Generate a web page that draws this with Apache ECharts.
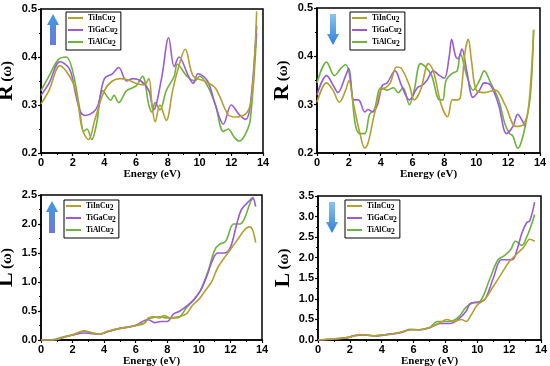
<!DOCTYPE html>
<html><head><meta charset="utf-8">
<script src="https://cdn.jsdelivr.net/npm/echarts@6/dist/echarts.min.js"></script>
<style>html,body{margin:0;padding:0;background:#fff}#c{width:550px;height:366px}</style>
</head><body><div id="c"></div>
<script>
// ---- Data (energy in eV, value) ----
const names = ['TiInCu2', 'TiGaCu2', 'TiAlCu2'];
const xTicks = [0, 2, 4, 6, 8, 10, 12, 14];

// Panel 1: R(ω), spin up
const r1In = [[0,0.302],[0.5,0.33],[1.2,0.382],[1.8,0.36],[2.2,0.33],[2.6,0.25],[3.0,0.228],[3.4,0.27],[4.0,0.33],[4.5,0.35],[5.0,0.355],[5.5,0.352],[6.0,0.345],[6.5,0.342],[6.8,0.355],[7.0,0.3],[7.2,0.265],[7.5,0.3],[7.9,0.268],[8.3,0.33],[8.6,0.37],[9.1,0.416],[9.6,0.36],[10.3,0.35],[11.0,0.335],[11.8,0.28],[12.3,0.275],[13.0,0.285],[13.3,0.32],[13.6,0.495]];
const r1Ga = [[0,0.32],[0.5,0.345],[1.2,0.39],[1.8,0.375],[2.2,0.32],[2.5,0.285],[2.8,0.278],[3.3,0.285],[3.6,0.3],[4.0,0.355],[4.5,0.365],[4.9,0.378],[5.4,0.35],[5.8,0.355],[6.3,0.35],[6.8,0.33],[7.1,0.29],[7.6,0.355],[8.05,0.44],[8.4,0.38],[8.7,0.4],[9.3,0.36],[9.6,0.345],[9.9,0.365],[10.5,0.35],[11.0,0.3],[11.5,0.26],[12.0,0.3],[12.5,0.28],[12.9,0.27],[13.2,0.3],[13.6,0.465]];
const r1Al = [[0,0.33],[0.5,0.36],[1.1,0.395],[1.6,0.4],[2.0,0.37],[2.4,0.3],[2.7,0.245],[2.9,0.25],[3.2,0.228],[3.5,0.26],[3.9,0.33],[4.4,0.31],[4.6,0.32],[4.9,0.305],[5.4,0.33],[6.0,0.34],[6.4,0.36],[6.8,0.3],[7.0,0.285],[7.2,0.305],[7.5,0.29],[7.9,0.33],[8.4,0.36],[8.6,0.385],[9.2,0.36],[9.7,0.35],[10.0,0.36],[10.5,0.34],[11.0,0.3],[11.5,0.245],[11.8,0.25],[12.2,0.232],[12.5,0.225],[12.9,0.24],[13.2,0.27],[13.6,0.45]];

// Panel 2: R(ω), spin down
const r2In = [[0,0.305],[0.6,0.345],[1.0,0.33],[1.4,0.305],[1.8,0.33],[2.0,0.35],[2.3,0.3],[2.7,0.24],[3.0,0.21],[3.2,0.22],[3.6,0.28],[4.0,0.33],[4.3,0.335],[4.6,0.345],[5.0,0.378],[5.3,0.375],[5.8,0.34],[6.1,0.31],[6.5,0.33],[7.0,0.385],[7.3,0.37],[7.8,0.3],[8.2,0.275],[8.5,0.31],[8.8,0.31],[9.0,0.315],[9.3,0.41],[9.5,0.435],[9.7,0.39],[10.0,0.33],[10.5,0.325],[11.2,0.33],[11.8,0.3],[12.5,0.255],[13.0,0.26],[13.3,0.3],[13.6,0.455]];
const r2Ga = [[0,0.32],[0.6,0.36],[1.1,0.335],[1.3,0.325],[1.8,0.36],[2.0,0.375],[2.3,0.31],[2.6,0.31],[3.0,0.285],[3.2,0.29],[3.5,0.285],[3.8,0.3],[4.1,0.34],[4.4,0.345],[4.9,0.37],[5.3,0.34],[5.8,0.31],[6.3,0.335],[6.6,0.34],[6.9,0.35],[7.3,0.37],[7.7,0.36],[8.0,0.355],[8.3,0.4],[8.45,0.435],[8.7,0.4],[8.85,0.395],[9.1,0.415],[9.4,0.37],[9.8,0.315],[10.2,0.33],[10.5,0.345],[10.9,0.34],[11.4,0.3],[11.9,0.24],[12.3,0.255],[12.6,0.28],[13.0,0.26],[13.1,0.255]];
const r2Al = [[0,0.345],[0.6,0.388],[1.1,0.36],[1.5,0.375],[1.8,0.383],[2.1,0.35],[2.4,0.26],[2.7,0.24],[3.0,0.24],[3.3,0.28],[3.6,0.29],[4.0,0.335],[4.4,0.33],[4.8,0.335],[5.1,0.325],[5.4,0.335],[5.8,0.3],[6.1,0.33],[6.5,0.385],[6.9,0.375],[7.2,0.36],[7.7,0.31],[7.9,0.31],[8.1,0.35],[8.5,0.365],[8.8,0.37],[9.0,0.405],[9.4,0.36],[9.8,0.33],[10.2,0.35],[10.5,0.37],[10.9,0.345],[11.4,0.31],[11.8,0.26],[12.1,0.24],[12.3,0.235],[12.6,0.21],[12.8,0.22],[13.1,0.26],[13.4,0.32],[13.6,0.455]];

// Panel 3: L(ω), spin up
const l1In = [[0,0],[0.8,0],[1.5,0.05],[2.2,0.11],[2.7,0.16],[3.3,0.12],[3.7,0.1],[4.2,0.15],[5.0,0.2],[5.7,0.23],[6.3,0.28],[6.6,0.3],[6.8,0.38],[7.2,0.4],[7.5,0.38],[7.8,0.42],[8.2,0.38],[8.7,0.4],[9.2,0.45],[9.6,0.6],[10.0,0.7],[10.4,0.85],[10.8,1.0],[11.2,1.25],[11.7,1.45],[12.1,1.6],[12.5,1.75],[12.9,1.9],[13.2,1.95],[13.4,1.9],[13.6,1.68]];
const l1Ga = [[0,0],[0.8,0],[1.5,0.05],[2.2,0.1],[2.8,0.12],[3.7,0.1],[4.3,0.15],[5.0,0.2],[6.0,0.25],[6.5,0.33],[6.8,0.35],[7.2,0.3],[7.6,0.32],[8.0,0.32],[8.4,0.45],[8.8,0.5],[9.3,0.6],[9.7,0.7],[10.1,0.85],[10.5,1.1],[10.9,1.4],[11.2,1.5],[11.6,1.5],[12.0,1.6],[12.4,2.0],[12.7,2.25],[13.2,2.4],[13.4,2.45],[13.6,2.3]];
const l1Al = [[0,0],[0.8,0.01],[1.5,0.06],[2.2,0.1],[2.7,0.15],[3.3,0.12],[3.7,0.1],[4.3,0.15],[5.0,0.2],[6.0,0.25],[6.5,0.28],[6.7,0.35],[7.0,0.38],[7.5,0.4],[8.0,0.38],[8.5,0.38],[8.8,0.4],[9.2,0.55],[9.7,0.7],[10.1,0.85],[10.6,1.2],[11.0,1.55],[11.3,1.65],[11.7,1.7],[12.2,2.0],[12.6,2.0],[12.9,2.1],[13.3,2.4],[13.5,2.45]];

// Panel 4: L(ω), spin down
const l2In = [[0,0],[1.0,0.03],[2.0,0.07],[2.6,0.13],[3.0,0.12],[3.5,0.1],[4.0,0.12],[4.7,0.15],[5.3,0.2],[5.8,0.25],[6.3,0.25],[6.8,0.28],[7.3,0.35],[7.8,0.45],[8.1,0.5],[8.5,0.45],[9.0,0.5],[9.3,0.45],[9.6,0.6],[10.0,0.85],[10.5,1.0],[11.0,1.3],[11.5,1.6],[12.0,1.9],[12.5,2.1],[12.9,2.25],[13.3,2.45],[13.6,2.4]];
const l2Ga = [[0,0],[1.0,0.02],[1.8,0.05],[2.2,0.1],[3.0,0.12],[3.7,0.1],[4.3,0.13],[5.2,0.18],[5.8,0.25],[6.4,0.25],[7.0,0.3],[7.7,0.4],[8.3,0.4],[8.8,0.5],[9.3,0.7],[9.6,0.9],[10.1,0.92],[10.5,1.0],[11.0,1.5],[11.5,1.95],[11.8,1.95],[12.2,1.95],[12.5,2.2],[12.8,2.6],[13.1,2.85],[13.3,2.9],[13.6,3.35]];
const l2Al = [[0,0],[1.0,0.03],[2.0,0.07],[2.5,0.12],[3.0,0.12],[3.5,0.1],[4.0,0.12],[4.8,0.16],[5.3,0.2],[5.8,0.26],[6.4,0.25],[7.0,0.3],[7.5,0.45],[8.2,0.45],[8.8,0.55],[9.3,0.8],[9.7,0.9],[10.2,0.95],[10.8,1.5],[11.3,1.95],[11.7,2.05],[12.1,2.2],[12.4,2.4],[12.8,2.3],[13.1,2.5],[13.4,2.8],[13.6,3.05]];

const colors = ['#b3a032', '#9a5bd8', '#6db33f'];

const grids = [
  {left: 41, top: 9, width: 222, height: 144},
  {left: 317, top: 8, width: 223, height: 145},
  {left: 41, top: 195, width: 221, height: 145},
  {left: 318, top: 196, width: 223, height: 144}
];
const yCfg = [
  {min: 0.2, max: 0.5, interval: 0.1, name: 'R', dec: 1},
  {min: 0.2, max: 0.5, interval: 0.1, name: 'R', dec: 1},
  {min: 0, max: 2.5, interval: 0.5, name: 'L', dec: 1},
  {min: 0, max: 3.5, interval: 0.5, name: 'L', dec: 1}
];
const panels = [[r1In, r1Ga, r1Al], [r2In, r2Ga, r2Al], [l1In, l1Ga, l1Al], [l2In, l2Ga, l2Al]];

const tickFont = {fontFamily: 'Liberation Sans', fontWeight: 'bold', fontSize: 11, color: '#000'};
const axisLine = {lineStyle: {color: '#000', width: 1.5}};

const option = {
  animation: false,
  backgroundColor: '#fff',
  grid: grids.map(g => Object.assign({show: true, borderColor: '#000', borderWidth: 1.5, backgroundColor: 'transparent', containLabel: false, outerBoundsMode: 'none'}, g)),
  xAxis: grids.map((g, i) => ({
    type: 'value', gridIndex: i, min: 0, max: 14, interval: 2,
    name: 'Energy (eV)', nameLocation: 'middle', nameGap: 15,
    nameTextStyle: {fontFamily: 'Liberation Serif', fontWeight: 'bold', fontSize: 11, color: '#000'},
    axisLine: axisLine,
    axisTick: {show: true, length: 3, inside: false, lineStyle: {color: '#000', width: 1.2}},
    minorTick: {show: true, splitNumber: 2, length: 2, lineStyle: {color: '#000', width: 1}},
    axisLabel: Object.assign({margin: 4}, tickFont),
    splitLine: {show: false}
  })),
  yAxis: grids.map((g, i) => ({
    type: 'value', gridIndex: i, min: yCfg[i].min, max: yCfg[i].max, interval: yCfg[i].interval,
    name: '{b|' + yCfg[i].name + '} {s|(ω)}', nameLocation: 'middle', nameGap: 20, nameRotate: 90,
    nameTextStyle: {color: '#000', rich: {
      b: {fontFamily: 'Liberation Serif', fontWeight: 'bold', fontSize: 22, color: '#000'},
      s: {fontFamily: 'Liberation Serif', fontWeight: 'bold', fontSize: 15, color: '#000'}
    }},
    axisLine: axisLine,
    axisTick: {show: true, length: 3, inside: false, lineStyle: {color: '#000', width: 1.2}},
    minorTick: {show: true, splitNumber: 2, length: 2, lineStyle: {color: '#000', width: 1}},
    axisLabel: Object.assign({margin: 4, formatter: v => v.toFixed(yCfg[i].dec)}, tickFont),
    splitLine: {show: false}
  })),
  legend: [
    {left: 66, top: 12},
    {left: 350, top: 12},
    {left: 64, top: 200},
    {left: 345, top: 200}
  ].map(p => Object.assign({
    data: names, orient: 'vertical', itemGap: 2, itemWidth: 15, itemHeight: 2, icon: 'rect',
    padding: [2, 3, 2, 2], borderColor: '#000', borderWidth: 1, backgroundColor: '#fff',
    selectedMode: false,
    formatter: n => n.slice(0, -1) + '{s|2}',
    textStyle: {fontFamily: 'Liberation Serif', fontWeight: 'bold', fontSize: 7.5, color: '#000',
      rich: {s: {fontFamily: 'Liberation Serif', fontWeight: 'bold', fontSize: 7.5, color: '#000', padding: [4, 0, 0, 0]}}}
  }, p)),
  series: []
};

panels.forEach((sets, i) => {
  sets.forEach((d, k) => {
    option.series.push({
      type: 'line', name: names[k], xAxisIndex: i, yAxisIndex: i, data: d,
      smooth: 0.35, showSymbol: false, symbol: 'none',
      lineStyle: {color: colors[k], width: 1.6}, itemStyle: {color: colors[k]},
      z: 3 - k
    });
  });
});

function arrow(cx, top, bottom, up) {
  const hw = 6, sw = 3, hl = 11;
  let pts;
  if (up) {
    pts = [[cx, top], [cx + hw, top + hl], [cx + sw, top + hl], [cx + sw, bottom], [cx - sw, bottom], [cx - sw, top + hl], [cx - hw, top + hl]];
  } else {
    pts = [[cx, bottom], [cx + hw, bottom - hl], [cx + sw, bottom - hl], [cx + sw, top], [cx - sw, top], [cx - sw, bottom - hl], [cx - hw, bottom - hl]];
  }
  return {
    type: 'polygon', shape: {points: pts}, z: 100,
    style: {fill: new echarts.graphic.LinearGradient(0, 0, 0, 1, up ?
      [{offset: 0, color: '#3d9be6'}, {offset: 1, color: '#6f78d6'}] :
      [{offset: 0, color: '#8cc4f0'}, {offset: 1, color: '#2f7fd6'}])}
  };
}
option.graphic = [
  arrow(53, 14, 45, true),
  arrow(333, 14, 45, false),
  arrow(52, 201, 233, true),
  arrow(332, 202, 233, false)
];

const chart = echarts.init(document.getElementById('c'), null, {renderer: 'canvas'});
chart.setOption(option);
</script>
</body></html>
